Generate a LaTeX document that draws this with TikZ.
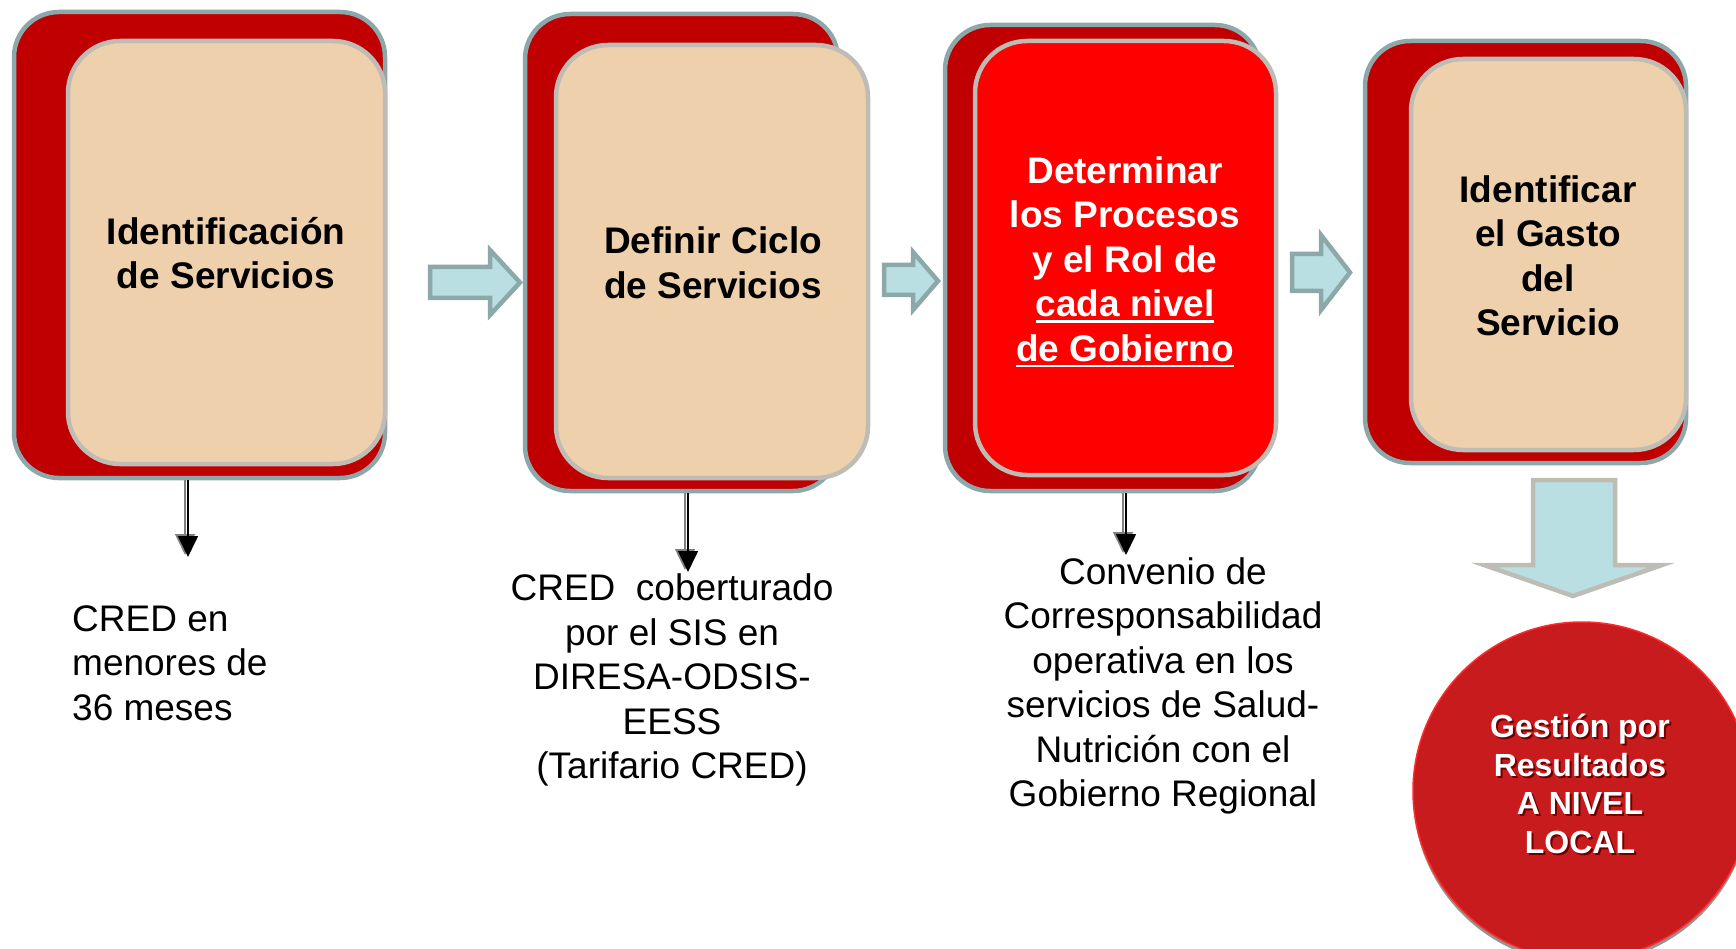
\documentclass[tikz,border=0pt]{standalone}
\usepackage{fontspec}
\setmainfont{Liberation Sans}
\newsavebox\myulbox
\newcommand\myul[1]{\sbox\myulbox{#1}\rlap{\rule[-6pt]{\wd\myulbox}{2.6pt}}\usebox\myulbox}
\usetikzlibrary{shadows,arrows.meta}
\definecolor{darkred}{HTML}{C00000}
\definecolor{beige}{HTML}{EED0AC}
\definecolor{outerline}{HTML}{8DA8AA}
\definecolor{innerline}{HTML}{BEBCB4}
\definecolor{brightred}{HTML}{FE0000}
\definecolor{arrowfill}{HTML}{B9DFE2}
\definecolor{arrowline}{HTML}{8CA8A9}
\definecolor{bigline}{HTML}{BDBCB5}
\definecolor{goalfill}{HTML}{C71B1E}
\definecolor{goaledge}{HTML}{FF2A2A}
\definecolor{shadowred}{HTML}{6E0000}
\tikzset{
  outerbox/.style={draw=outerline, line width=4.5pt, fill=darkred, rounded corners=45pt, inner sep=0pt},
  innerbox/.style={draw=innerline, line width=4.5pt, fill=beige, rounded corners=52pt, inner sep=0pt},
  boxtext/.style={align=center, font=\fontsize{37}{44.5}\selectfont\bfseries, inner sep=0pt},
  plaintext/.style={font=\fontsize{37}{44.5}\selectfont, inner sep=0pt},
  blockarrow/.style={draw=arrowline, fill=arrowfill, line width=4.5pt, line join=miter},
  bigarrow/.style={draw=bigline, fill=arrowfill, line width=4.5pt, line join=miter},
  smallarrow/.style={line width=1.6pt, -{Triangle[width=20pt,length=21pt]}},
  goaltext/.style={align=center, font=\fontsize{32}{38.5}\selectfont\bfseries, inner sep=0pt},
}
\begin{document}
\begin{tikzpicture}[x=1pt,y=-1pt]
\useasboundingbox (0,0) rectangle (1736,949);
% box 1
\node[outerbox, minimum width=371pt, minimum height=466pt] (b1o) at (199.5,245) {};
\node[innerbox, minimum width=317pt, minimum height=423pt] (b1i) at (226.5,252.5) {};
\node[boxtext] (t1) at (226,253) {Identificación\\de Servicios};
% box 2
\node[outerbox, minimum width=313pt, minimum height=477pt] (b2o) at (681.5,252.5) {};
\node[innerbox, minimum width=312pt, minimum height=433pt] (b2i) at (712,261.5) {};
\node[boxtext] (t2) at (713,263) {Definir Ciclo\\de Servicios};
% box 3
\node[outerbox, minimum width=315pt, minimum height=466pt] (b3o) at (1102.5,258) {};
\node[innerbox, fill=brightred, minimum width=301pt, minimum height=434pt] (b3i) at (1125.5,258) {};
\node[boxtext, text=white] (t3) at (1125,262) {Determinar\\los Procesos\\y el Rol de\\\myul{cada nivel}\\\myul{de Gobierno}};
% box 4
\node[outerbox, minimum width=321pt, minimum height=422pt] (b4o) at (1525.5,252) {};
\node[innerbox, minimum width=275pt, minimum height=391pt] (b4i) at (1548.5,254.5) {};
\node[boxtext] (t4) at (1548,256) {Identificar\\el Gasto\\del\\Servicio};
% block arrows
\draw[blockarrow] (430,267) -- (490,267) -- (490,250) -- (520,282.5) -- (490,315) -- (490,298) -- (430,298) -- cycle;
\draw[blockarrow] (884,265) -- (913,265) -- (913,252) -- (938,281) -- (913,310) -- (913,295) -- (884,295) -- cycle;
\draw[blockarrow] (1292,254) -- (1321,254) -- (1321,235) -- (1350,272.5) -- (1321,310) -- (1321,291) -- (1292,291) -- cycle;
\draw[bigarrow] (1533,480) -- (1615,480) -- (1615,565) -- (1662,565) -- (1573,596) -- (1484,565) -- (1533,565) -- cycle;
% bottom texts
\node[plaintext, align=left, anchor=west] (d1) at (72,663) {CRED en\\menores de\\36 meses};
\node[plaintext, align=center] (d2) at (672,680) {CRED\ \ coberturado\\por el SIS en\\DIRESA-ODSIS-\\EESS\\(Tarifario CRED)};
\node[plaintext, align=center] (d3) at (1163,686) {Convenio de\\Corresponsabilidad\\operativa en los\\servicios de Salud-\\Nutrición con el\\Gobierno Regional};
% small arrows
\coordinate (e1) at (188,557);
\coordinate (e2) at (688,572);
\coordinate (e3) at (1126,555);
\foreach \b/\e in {b1o/e1,b2o/e2,b3o/e3}{
  \draw[smallarrow, draw=gray, fill=gray] ([xshift=-3pt]\b.south -| \e) -- ([xshift=-3pt,yshift=2pt]\e);
  \draw[smallarrow, draw=black, fill=black] (\b.south -| \e) -- (\e);
}
% goal circle
\node[circle, minimum size=338pt, fill=goalfill, draw=goaledge, line width=1.5pt,
      drop shadow={shadow xshift=0pt, shadow yshift=-4pt, fill=black!60, opacity=0.7}] (goal) at (1582,791) {};
\node[goaltext, text=shadowred] (gs) at (1582,786) {Gestión por\\Resultados\\A NIVEL\\LOCAL};
\node[goaltext, text=white] (gt) at (1580,784) {Gestión por\\Resultados\\A NIVEL\\LOCAL};
\end{tikzpicture}
\end{document}
